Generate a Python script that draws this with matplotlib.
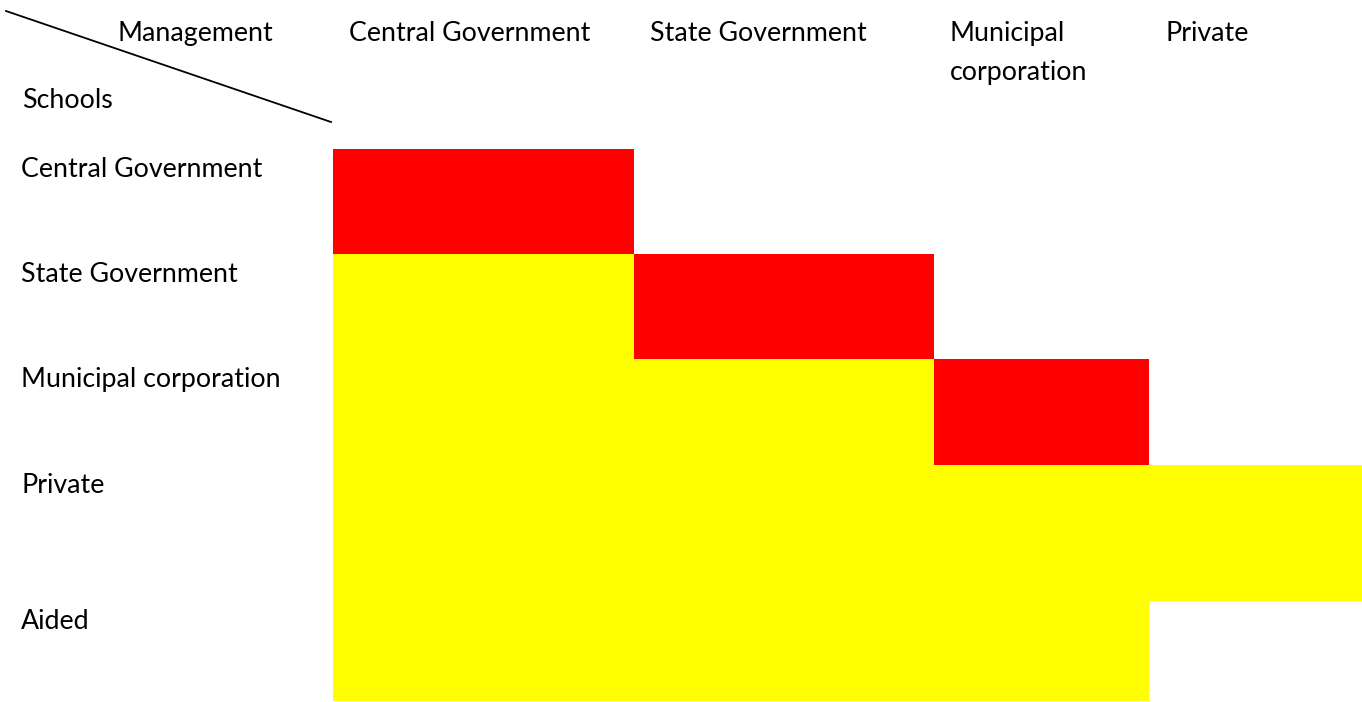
import matplotlib.pyplot as plt
import numpy as np
from matplotlib.colors import ListedColormap

# categorias
schools = ['Central Government', 'State Government', 'Municipal corporation', 'Private', 'Aided']
management = ['Central Government', 'State Government', 'Municipal\ncorporation', 'Private']

# 0 = vacio, 1 = amarillo, 2 = rojo
cells = np.array([
    [2, 0, 0, 0],
    [1, 2, 0, 0],
    [1, 1, 2, 0],
    [1, 1, 1, 1],
    [1, 1, 1, 0],
])

# bordes en pixeles de la figura
x_edges = [333, 634, 934, 1149, 1362]
y_edges = [149, 254, 359, 465, 601, 701]

plt.rcParams['font.family'] = ['Lato', 'DejaVu Sans']

fig = plt.figure(figsize=(13.62, 7.02), dpi=100)
ax = fig.add_axes([0, 0, 1, 1])
ax.set_xlim(0, 1362)
ax.set_ylim(702, 0)
ax.axis('off')

cmap = ListedColormap(['white', '#ffff00', '#ff0000'])
ax.pcolormesh(x_edges, y_edges, cells, cmap=cmap, vmin=-0.5, vmax=2.5)

# encabezado con la diagonal
ax.plot([6, 331], [11, 122], color='black', lw=1.3)
fs = 19.3
ax.text(117, 41, 'Management', fontsize=fs, va='baseline')
ax.text(22, 108, 'Schools', fontsize=fs, va='baseline')

for i, name in enumerate(management):
    for k, line in enumerate(name.split('\n')):
        ax.text(x_edges[i] + 16, 41 + 39 * k, line, fontsize=fs, va='baseline')

for j, name in enumerate(schools):
    ax.text(21, y_edges[j] + 28, name, fontsize=fs, va='baseline')

fig.savefig('out.png', dpi=100)
